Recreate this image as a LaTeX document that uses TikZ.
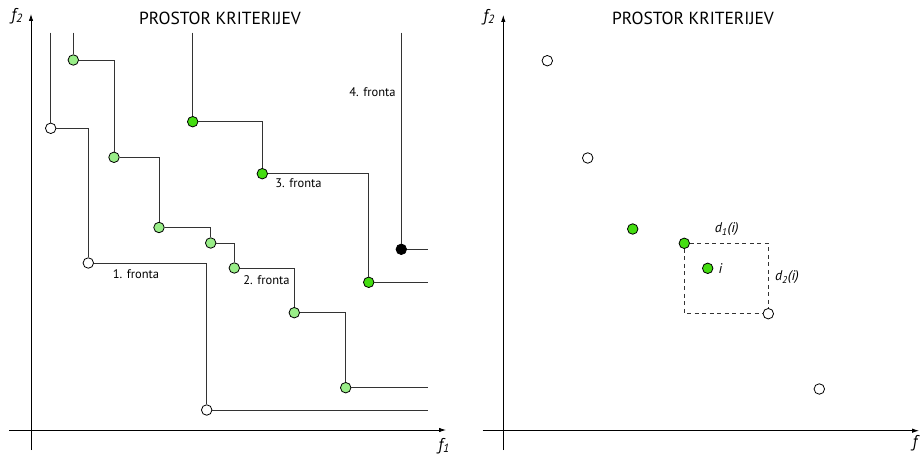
\documentclass[tikz,border=0pt]{standalone}
\usepackage{fontspec}
\setmainfont{PT Sans}
\usetikzlibrary{arrows.meta}
\definecolor{pgreen}{HTML}{99EE88}
\definecolor{dgreen}{HTML}{44DD11}
\tikzset{
  pt/.style={circle,draw=black,line width=0.8pt,minimum size=10.5pt,inner sep=0pt},
  wpt/.style={pt,fill=white},
  lpt/.style={pt,fill=pgreen},
  gpt/.style={pt,fill=dgreen},
  bpt/.style={pt,fill=black},
  ln/.style={draw=black!80,line width=0.7pt},
  axis/.style={draw=black,line width=0.8pt,-{Latex[length=7pt,width=4.5pt]}},
  lbl/.style={font=\fontsize{12.5}{14}\selectfont,inner sep=0pt},
  ttl/.style={font=\fontsize{17.5}{19}\selectfont,inner sep=0pt},
  ax/.style={font=\fontsize{17}{19}\selectfont\itshape,inner sep=0pt},
  dim/.style={font=\fontsize{14}{16}\selectfont\itshape,inner sep=0pt}
}
\begin{document}
\begin{tikzpicture}[x=1pt,y=-1pt]
\useasboundingbox (0,0) rectangle (920,457);
% ===== left panel =====
\coordinate (ly0) at (31,450);
\coordinate (ly1) at (31,14);
\coordinate (lx0) at (9,430);
\coordinate (lx1) at (446,430);
\draw[axis] (ly0) -- (ly1);
\draw[axis] (lx0) -- (lx1);
\node[ax] (lf2) at (17,16) {f\textsubscript{2}};
\node[ax] (lf1) at (444,446) {f\textsubscript{1}};
\node[ttl] (lt) at (220,18) {PROSTOR KRITERIJEV};
% front 1
\node[wpt] (a1) at (50.7,128.3) {};
\node[wpt] (a2) at (88.3,263) {};
\node[wpt] (a3) at (206.7,410) {};
\coordinate (a0) at (50.7,32.7);
\coordinate (ae) at (428.3,410);
% front 2
\node[lpt] (b1) at (73.3,60) {};
\node[lpt] (b2) at (114,157.3) {};
\node[lpt] (b3) at (159,227.5) {};
\node[lpt] (b4) at (210.7,243) {};
\node[lpt] (b5) at (234.3,268) {};
\node[lpt] (b6) at (294.3,312.7) {};
\node[lpt] (b7) at (345.7,387.7) {};
\coordinate (b0) at (73.3,32.7);
\coordinate (be) at (428.3,387.7);
% front 3
\node[gpt] (c1) at (192.7,121.7) {};
\node[gpt] (c2) at (262.3,173.7) {};
\node[gpt] (c3) at (368.7,282.3) {};
\coordinate (c0) at (192.7,32.7);
\coordinate (ce) at (428.3,282.3);
% front 4
\node[bpt] (d1) at (401.3,249.3) {};
\coordinate (d0) at (401.3,32.7);
\coordinate (de) at (428.3,249.3);
% connectors
\draw[ln] (a0) -- (a1);
\draw[ln] (a1) -| (a2);
\draw[ln] (a2) -| (a3);
\draw[ln] (a3) -- (ae);
\draw[ln] (b0) -- (b1);
\draw[ln] (b1) -| (b2);
\draw[ln] (b2) -| (b3);
\draw[ln] (b3) -| (b4);
\draw[ln] (b4) -| (b5);
\draw[ln] (b5) -| (b6);
\draw[ln] (b6) -| (b7);
\draw[ln] (b7) -- (be);
\draw[ln] (c0) -- (c1);
\draw[ln] (c1) -| (c2);
\draw[ln] (c2) -| (c3);
\draw[ln] (c3) -- (ce);
\draw[ln] (d0) -- (d1);
\draw[ln] (d1) -- (de);
% labels
\node[lbl] (l1) at (136,274) {1. fronta};
\node[lbl] (l2) at (266.5,280) {2. fronta};
\node[lbl] (l3) at (298.5,183.5) {3. fronta};
\node[lbl] (l4) at (372.5,92.5) {4. fronta};
% ===== right panel =====
\coordinate (ry0) at (503.3,450);
\coordinate (ry1) at (503.3,15);
\coordinate (rx0) at (482.7,430.7);
\coordinate (rx1) at (919,430.7);
\draw[axis] (ry0) -- (ry1);
\draw[axis] (rx0) -- (rx1);
\node[ax] (rf2) at (489,17) {f\textsubscript{2}};
\node[ax,anchor=west] (rf1) at (912.5,443) {f};
\node[ttl] (rt) at (693,18) {PROSTOR KRITERIJEV};
\node[wpt] (p1) at (547.3,60.7) {};
\node[wpt] (p2) at (587.7,158) {};
\node[gpt] (p3) at (632.7,229) {};
\node[gpt] (p4) at (684.3,243.3) {};
\node[gpt] (p5) at (707.7,268.3) {};
\node[wpt] (p6) at (768.3,313.7) {};
\node[wpt] (p7) at (819.3,389) {};
\draw[ln,dashed,dash pattern=on 4pt off 3.5pt] (p4) -| (p6);
\draw[ln,dashed,dash pattern=on 4pt off 3.5pt] (p4) |- (p6);
\node[dim] (d1i) at (726.7,229.5) {d\textsubscript{1}(i)};
\node[dim,anchor=west] (ii) at (718.5,269) {i};
\node[dim] (d2i) at (787,277.5) {d\textsubscript{2}(i)};
\end{tikzpicture}
\end{document}
